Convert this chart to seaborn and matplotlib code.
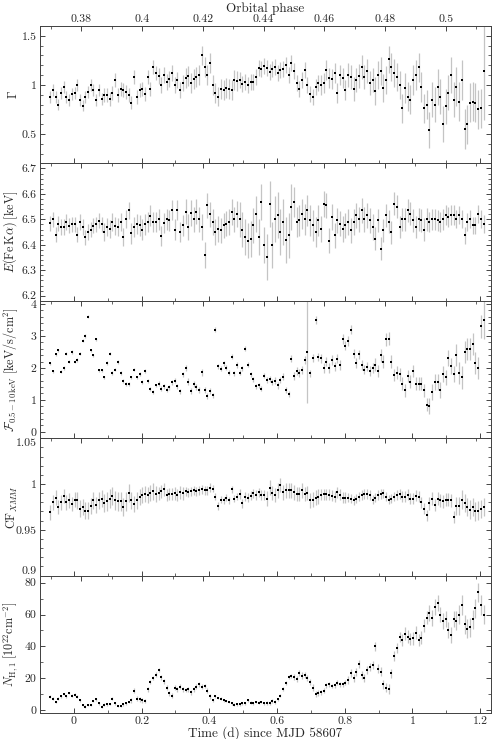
import numpy as np
import pandas as pd
import seaborn as sns
import matplotlib.pyplot as plt
from matplotlib.ticker import MultipleLocator, FixedLocator, FuncFormatter

# ── Data (0.008 d bins) ─────────────────────────────────────────────────────
T0, DT, NBIN = -0.07, 0.008, 161
P_ORB, PHASE0 = 8.964, 0.3775
PHASE_TICKS = [0.38, 0.40, 0.42, 0.44, 0.46, 0.48, 0.50]

gamma = [0.88, 0.95, 0.88, 0.80, 0.92, 0.98, 0.88, 0.85, 0.91, 0.92,
         1.00, 0.85, 0.79, 0.88, 0.93, 1.00, 0.95, 0.85, 0.95, 0.86,
         0.90, 0.90, 0.86, 0.92, 1.05, 0.90, 0.96, 0.95, 0.93, 0.90,
         0.82, 1.08, 0.88, 0.95, 0.96, 0.91, 1.08, 0.96, 1.18, 1.12,
         1.09, 1.00, 1.10, 1.03, 1.06, 1.12, 1.00, 1.05, 0.95, 1.02,
         1.07, 1.09, 1.02, 1.06, 1.08, 1.10, 1.30, 1.18, 1.10, 1.22,
         1.00, 0.92, 0.88, 0.96, 0.95, 0.97, 0.96, 0.95, 1.05, 1.04,
         1.05, 1.01, 1.03, 1.00, 1.03, 1.03, 1.08, 1.17, 1.16, 1.19,
         1.17, 1.13, 1.16, 1.18, 1.12, 1.15, 1.16, 1.20, 1.10, 1.22,
         1.14, 1.02, 0.96, 1.05, 1.15, 1.00, 0.91, 0.88, 0.98, 1.02,
         1.00, 1.02, 1.15, 1.07, 1.06, 1.12, 0.92, 1.10, 1.07, 0.95,
         1.10, 1.08, 0.96, 1.05, 1.09, 1.18, 1.08, 1.14, 1.02, 1.05,
         0.94, 1.10, 1.14, 0.97, 1.05, 1.26, 1.18, 1.12, 1.08, 1.00,
         0.76, 0.97, 0.88, 0.85, 1.05, 1.10, 1.18, 0.98, 0.76, 0.80,
         0.54, 0.85, 0.80, 0.98, 0.88, 0.60, 0.78, 0.92, 1.10, 0.85,
         0.98, 0.83, 1.05, 0.55, 0.60, 0.82, 0.83, 0.82, 0.75, 0.76,
         1.14]

fe_energy = [6.485, 6.500, 6.440, 6.483, 6.470, 6.470, 6.490, 6.475, 6.480, 6.480,
             6.440, 6.490, 6.470, 6.430, 6.450, 6.460, 6.475, 6.480, 6.495, 6.480,
             6.450, 6.470, 6.463, 6.490, 6.475, 6.470, 6.490, 6.430, 6.500, 6.535,
             6.445, 6.470, 6.483, 6.476, 6.460, 6.480, 6.490, 6.515, 6.490, 6.490,
             6.500, 6.435, 6.485, 6.500, 6.496, 6.538, 6.460, 6.537, 6.450, 6.476,
             6.530, 6.470, 6.525, 6.500, 6.530, 6.500, 6.470, 6.360, 6.555, 6.520,
             6.490, 6.450, 6.463, 6.457, 6.476, 6.483, 6.490, 6.529, 6.500, 6.522,
             6.500, 6.460, 6.430, 6.417, 6.424, 6.476, 6.522, 6.430, 6.568, 6.400,
             6.352, 6.560, 6.400, 6.500, 6.516, 6.450, 6.490, 6.420, 6.437, 6.550,
             6.568, 6.490, 6.496, 6.522, 6.500, 6.535, 6.496, 6.476, 6.450, 6.496,
             6.463, 6.560, 6.555, 6.417, 6.509, 6.437, 6.496, 6.483, 6.463, 6.476,
             6.490, 6.457, 6.490, 6.516, 6.500, 6.535, 6.500, 6.516, 6.496, 6.470,
             6.424, 6.496, 6.385, 6.457, 6.516, 6.490, 6.450, 6.562, 6.549, 6.470,
             6.500, 6.500, 6.535, 6.522, 6.496, 6.470, 6.500, 6.496, 6.460, 6.500,
             6.490, 6.500, 6.500, 6.496, 6.490, 6.500, 6.516, 6.509, 6.516, 6.516,
             6.500, 6.516, 6.500, 6.437, 6.490, 6.500, 6.476, 6.476, 6.522, 6.500,
             6.483]

flux = [2.15, 1.90, 2.42, 2.55, 1.88, 2.00, 2.45, 2.20, 2.50, 2.20,
        2.25, 2.45, 2.85, 3.00, 3.60, 2.55, 2.40, 2.90, 1.93, 1.93,
        1.70, 2.15, 2.45, 1.85, 1.95, 2.19, 1.85, 1.60, 1.50, 1.50,
        1.70, 1.95, 1.70, 1.80, 1.55, 1.90, 1.58, 1.35, 1.25, 1.45,
        1.50, 1.35, 1.42, 1.32, 1.40, 1.55, 1.60, 1.42, 1.27, 1.80,
        2.00, 1.57, 1.28, 1.50, 1.40, 1.30, 1.86, 1.30, 1.12, 1.27,
        1.15, 3.20, 2.05, 1.97, 2.14, 2.00, 1.85, 2.35, 1.83, 2.09,
        1.85, 1.99, 2.60, 2.10, 1.80, 1.65, 1.42, 1.45, 1.35, 1.75,
        1.63, 1.65, 1.55, 1.60, 1.45, 1.62, 1.73, 1.30, 1.18, 2.29,
        1.75, 1.90, 1.85, 1.93, 2.24, 2.50, 1.83, 2.30, 3.50, 2.35,
        2.30, 2.00, 2.20, 2.00, 2.24, 2.05, 2.29, 2.10, 2.90, 2.70,
        2.85, 3.20, 2.45, 2.15, 2.42, 2.10, 1.95, 2.04, 1.90, 1.99,
        2.10, 1.90, 2.40, 2.20, 2.90, 2.91, 2.20, 1.78, 1.85, 1.80,
        1.50, 1.30, 1.75, 1.57, 1.90, 1.50, 1.50, 1.50, 1.30, 0.85,
        0.80, 1.25, 1.55, 1.55, 1.30, 1.80, 1.70, 2.30, 2.05, 1.80,
        2.40, 1.85, 1.70, 2.50, 2.60, 2.60, 2.75, 2.15, 2.00, 3.30,
        3.50]

cf_xmm = [0.969, 0.980, 0.985, 0.975, 0.980, 0.987, 0.980, 0.982, 0.978, 0.983,
          0.982, 0.973, 0.975, 0.971, 0.971, 0.976, 0.982, 0.977, 0.982, 0.984,
          0.979, 0.981, 0.984, 0.987, 0.982, 0.981, 0.981, 0.975, 0.981, 0.990,
          0.982, 0.978, 0.982, 0.986, 0.988, 0.989, 0.988, 0.990, 0.992, 0.989,
          0.990, 0.992, 0.994, 0.988, 0.989, 0.989, 0.990, 0.988, 0.991, 0.990,
          0.992, 0.991, 0.992, 0.993, 0.992, 0.993, 0.994, 0.993, 0.993, 0.996,
          0.995, 0.986, 0.976, 0.983, 0.982, 0.985, 0.982, 0.994, 0.984, 0.986,
          0.989, 0.979, 0.986, 0.985, 0.987, 0.990, 0.988, 0.991, 0.988, 0.988,
          0.984, 0.996, 0.990, 0.988, 0.993, 0.999, 0.991, 0.993, 0.993, 0.993,
          0.991, 0.989, 0.989, 0.993, 0.989, 0.990, 0.982, 0.983, 0.985, 0.986,
          0.988, 0.989, 0.989, 0.988, 0.987, 0.986, 0.991, 0.988, 0.985, 0.985,
          0.985, 0.984, 0.982, 0.984, 0.986, 0.988, 0.989, 0.989, 0.988, 0.983,
          0.985, 0.988, 0.989, 0.990, 0.986, 0.983, 0.984, 0.986, 0.988, 0.989,
          0.986, 0.986, 0.988, 0.984, 0.984, 0.987, 0.986, 0.980, 0.973, 0.966,
          0.979, 0.984, 0.977, 0.984, 0.982, 0.981, 0.983, 0.983, 0.982, 0.964,
          0.976, 0.976, 0.983, 0.979, 0.975, 0.972, 0.975, 0.970, 0.971, 0.973,
          0.975]

nh1 = [8.3, 7.0, 5.0, 7.0, 8.5, 10.0, 8.5, 10.5, 9.0, 9.5,
       8.3, 6.0, 3.0, 2.0, 3.0, 3.0, 5.5, 6.5, 4.0, 2.0,
       3.3, 3.5, 3.7, 7.0, 4.0, 2.5, 2.5, 3.5, 4.0, 5.0,
       6.0, 12.0, 7.0, 6.5, 6.0, 5.5, 13.0, 17.5, 20.0, 22.0,
       25.0, 20.5, 18.0, 14.0, 10.5, 9.0, 14.0, 13.0, 14.5, 13.0,
       12.5, 13.0, 11.0, 13.0, 14.5, 16.0, 14.5, 15.0, 12.0, 8.5,
       6.0, 8.5, 7.5, 7.0, 6.0, 5.5, 5.0, 4.0, 3.3, 3.5,
       3.5, 4.0, 4.0, 6.0, 4.5, 4.0, 5.0, 4.5, 5.0, 4.0,
       4.5, 4.5, 5.5, 5.0, 6.5, 9.0, 13.0, 17.0, 20.5, 21.5,
       20.5, 19.5, 23.0, 21.5, 22.0, 20.0, 17.5, 14.0, 10.0, 10.5,
       11.0, 12.0, 15.5, 16.0, 15.0, 15.5, 17.0, 16.0, 16.0, 17.0,
       19.0, 23.0, 20.0, 24.0, 29.0, 22.0, 20.0, 25.0, 27.0, 28.0,
       40.0, 26.0, 24.0, 16.0, 14.0, 13.0, 23.0, 34.0, 39.0, 46.0,
       44.0, 48.0, 46.0, 44.5, 45.0, 48.5, 44.0, 45.5, 53.0, 58.0,
       61.0, 58.0, 65.0, 67.0, 60.0, 56.0, 57.0, 50.0, 47.0, 57.0,
       56.0, 60.0, 66.0, 54.0, 51.0, 52.0, 57.0, 64.0, 74.0, 66.0,
       60.0]

# 1-sigma errors, one estimate per block of 10 bins (last block 11 bins)
gamma_err_blocks = [0.06, 0.06, 0.07, 0.07, 0.08, 0.10, 0.10, 0.08,
                    0.08, 0.08, 0.10, 0.12, 0.14, 0.15, 0.18, 0.20]
fe_err_blocks = [0.030, 0.030, 0.035, 0.040, 0.040, 0.050, 0.050, 0.070,
                 0.090, 0.060, 0.050, 0.050, 0.045, 0.045, 0.040, 0.035]
flux_err_blocks = [0.05, 0.05, 0.06, 0.06, 0.08, 0.10, 0.08, 0.08,
                   0.10, 0.12, 0.15, 0.15, 0.20, 0.20, 0.25, 0.35]
cf_err_blocks = [0.008, 0.009, 0.010, 0.009, 0.007, 0.005, 0.004, 0.005,
                 0.008, 0.008, 0.006, 0.005, 0.005, 0.006, 0.007, 0.010]
nh_err_blocks = [0.8, 0.8, 0.8, 1.5, 1.5, 1.5, 0.8, 0.8,
                 1.2, 2.0, 1.5, 2.5, 3.0, 4.0, 5.0, 6.0]
# a few single bins with much larger error bars
gamma_err_single = {160: 0.5}
flux_err_single = {95: 1.6, 160: 0.6}

BLOCK_SIZES = [10] * 15 + [11]

# ── Build a tidy table ─────────────────────────────────────────────────────
def expand_err(blocks, single):
    err = np.repeat(blocks, BLOCK_SIZES).astype(float)
    for idx, val in single.items():
        err[idx] = val
    return err

time = T0 + DT * np.arange(NBIN)
df = pd.DataFrame({
    "time": time,
    "gamma": gamma, "gamma_err": expand_err(gamma_err_blocks, gamma_err_single),
    "fe": fe_energy, "fe_err": expand_err(fe_err_blocks, {}),
    "flux": flux, "flux_err": expand_err(flux_err_blocks, flux_err_single),
    "cf": cf_xmm, "cf_err": expand_err(cf_err_blocks, {}),
    "nh": nh1, "nh_err": expand_err(nh_err_blocks, {}),
})

# ── Style ──────────────────────────────────────────────────────────────────
sns.set_theme(style="ticks")
plt.rcParams.update({
    "font.family": "serif",
    "font.serif": ["cmr10", "DejaVu Serif"],
    "mathtext.fontset": "cm",
    "axes.unicode_minus": False,
    "axes.formatter.use_mathtext": True,
    "font.size": 8.5,
    "axes.linewidth": 0.7,
    "axes.edgecolor": "0.25",
    "xtick.direction": "in",
    "ytick.direction": "in",
    "xtick.major.size": 3.5,
    "ytick.major.size": 3.5,
    "xtick.minor.size": 2.0,
    "ytick.minor.size": 2.0,
    "xtick.major.width": 0.6,
    "ytick.major.width": 0.6,
    "xtick.minor.width": 0.5,
    "ytick.minor.width": 0.5,
    "xtick.labelsize": 8.5,
    "ytick.labelsize": 8.5,
    "axes.labelsize": 9.5,
})

panels = [
    ("gamma", r"$\Gamma$", (0.2, 1.6), 0.5, 0.1),
    ("fe", r"$E(\mathrm{Fe\,K}\alpha)\;[\mathrm{keV}]$", (6.18, 6.72), 0.1, 0.02),
    ("flux", r"$\mathcal{F}_{0.5-10\,\mathrm{keV}}\;[\mathrm{keV/s/cm^2}]$", (-0.2, 4.1), 1, 0.2),
    ("cf", r"$\mathrm{CF}_{XMM}$", (0.9, 1.05), 0.05, 0.01),
    ("nh", r"$N_{\mathrm{H},1}\;[10^{22}\mathrm{cm}^{-2}]$", (-2, 84.5), 20, 10),
]

fig, axes = plt.subplots(5, 1, figsize=(4.98, 7.39), dpi=100, sharex=True)
fig.subplots_adjust(left=0.0803, right=0.986, top=0.9648, bottom=0.0352, hspace=0)

t2phase = lambda t: PHASE0 + t / P_ORB
phase2t = lambda p: (p - PHASE0) * P_ORB
fmt_g = FuncFormatter(lambda v, pos: f"{v:g}")

for ax, (col, label, ylim, major, minor) in zip(axes, panels):
    ax.errorbar(df["time"], df[col], yerr=df[col + "_err"], fmt="none",
                ecolor="#c4c4c4", elinewidth=0.9, capsize=0, zorder=1)
    sns.scatterplot(data=df, x="time", y=col, ax=ax, marker="s", s=3,
                    color="black", linewidth=0, zorder=2)

    ax.set_ylim(*ylim)
    ax.set_xlim(-0.1, 1.232)
    ax.set_ylabel(label, fontsize=8.8)
    ax.yaxis.set_label_coords(-0.045, 0.5)
    ax.set_xlabel("")

    ax.yaxis.set_major_locator(MultipleLocator(major))
    ax.yaxis.set_minor_locator(MultipleLocator(minor))
    ax.yaxis.set_major_formatter(fmt_g)
    ax.xaxis.set_major_locator(MultipleLocator(0.2))
    ax.xaxis.set_minor_locator(MultipleLocator(0.1))
    ax.xaxis.set_major_formatter(fmt_g)
    ax.tick_params(axis="y", which="both", left=True, right=True, pad=2.5)
    ax.tick_params(axis="x", which="both", bottom=True, top=False, pad=2.5)

    # orbital phase ticks on the top spine of every panel
    sec = ax.secondary_xaxis("top", functions=(t2phase, phase2t))
    sec.xaxis.set_major_locator(FixedLocator(PHASE_TICKS))
    sec.xaxis.set_minor_locator(MultipleLocator(0.01))
    sec.xaxis.set_major_formatter(fmt_g)
    sec.tick_params(axis="x", which="both", direction="in")
    sec.spines["top"].set_visible(False)
    if ax is axes[0]:
        sec.set_xlabel("Orbital phase", labelpad=1.5)
        sec.tick_params(axis="x", pad=1.5)
    else:
        sec.tick_params(axis="x", labeltop=False)

axes[-1].set_xlabel("Time (d) since MJD 58607", labelpad=0.5)

# tick labels sitting exactly on a panel edge are pushed inside the panel
fig.canvas.draw()
for ax, (_, _, ylim, _, _) in zip(axes, panels):
    for tick in ax.yaxis.get_major_ticks():
        if np.isclose(tick.get_loc(), ylim[1]):
            tick.label1.set_verticalalignment("top")
        elif np.isclose(tick.get_loc(), ylim[0]):
            tick.label1.set_verticalalignment("bottom")

fig.savefig("out.png", dpi=100)
